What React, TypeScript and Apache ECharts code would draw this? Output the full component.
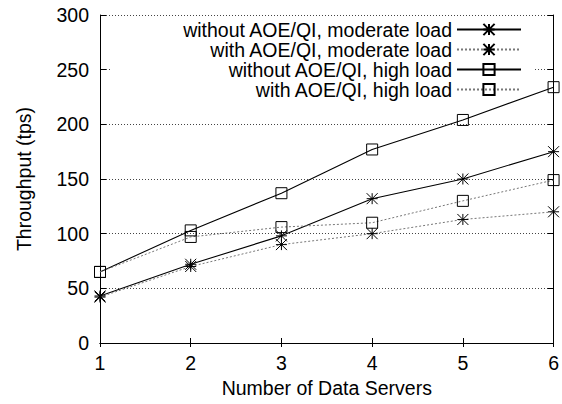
import React, { useEffect, useRef } from "react";
import * as echarts from "echarts";

const servers = [1, 2, 3, 4, 5, 6];
const withoutModerate = [43, 72, 98, 132, 150, 175];
const withModerate = [42, 70, 90, 100, 113, 120];
const withoutHigh = [65, 103, 137, 177, 204, 234];
const withHigh = [65, 97, 106, 110, 130, 149];
const seriesNames = [
  "without AOE/QI, moderate load",
  "with AOE/QI, moderate load",
  "without AOE/QI, high load",
  "with AOE/QI, high load",
];
const yTicks = [0, 50, 100, 150, 200, 250, 300];

const FONT = "'Liberation Sans', Arial, Helvetica, sans-serif";
const STAR = "path://M0,5L10,5M5,0L5,10M0,0L10,10M0,10L10,0";
const SQUARE = "path://M0,0L10,0L10,10L0,10Z";

export default function App() {
  const ref = useRef<HTMLDivElement>(null);
  useEffect(() => {
    if (!ref.current) return;
    const chart = echarts.init(ref.current, null, { renderer: "svg" });
    const values = [withoutModerate, withModerate, withoutHigh, withHigh];
    const symbols = [STAR, STAR, SQUARE, SQUARE];
    const dotted = [false, true, false, true];
    const series = values.map((arr, i) => ({
      type: "line",
      name: seriesNames[i],
      data: servers.map((x, j) => [x, arr[j]]),
      symbol: symbols[i],
      symbolSize: 11,
      symbolKeepAspect: true,
      showAllSymbol: true,
      xAxisIndex: 0,
      yAxisIndex: 0,
      itemStyle: { color: "rgba(0,0,0,0)", borderColor: "#000", borderWidth: 1 },
      lineStyle: dotted[i]
        ? { color: "#777", width: 1, type: [2, 2] }
        : { color: "#000", width: 1.1, type: "solid" },
      emphasis: { disabled: true },
      z: 3,
    }));
    const rows = [29, 49, 69, 89];
    const legends = seriesNames.map((n, i) => ({
      data: [n],
      right: i === 0 ? 29 : 40,
      top: i === 0 ? 19 : rows[i] - 9.5,
      orient: "vertical",
      align: "right",
      itemWidth: 64,
      itemHeight: 14,
      padding: i === 0 ? [0.5, 11, 60.5, 71] : 0,
      backgroundColor: i === 0 ? "#fff" : "transparent",
      selectedMode: false,
      textStyle: { fontFamily: FONT, fontSize: 19.5, lineHeight: 19, color: "#000" },
      z: i === 0 ? 2 : 5,
    }));
    const tickLabelStyle = { fontFamily: FONT, fontSize: 19.5, color: "#000" };
    chart.setOption({
      animation: false,
      backgroundColor: "#fff",
      grid: { left: 100, right: 8, top: 15, bottom: 61 },
      legend: legends,
      xAxis: [
        {
          type: "value",
          min: 1,
          max: 6,
          interval: 1,
          name: "Number of Data Servers",
          nameLocation: "middle",
          nameGap: 28,
          nameTextStyle: tickLabelStyle,
          axisLine: { show: true, lineStyle: { color: "#000", width: 1 } },
          axisTick: { show: true, inside: true, length: 5, lineStyle: { color: "#000" } },
          axisLabel: { ...tickLabelStyle, margin: 10 },
          splitLine: { show: false },
        },
        {
          type: "value",
          position: "top",
          min: 1,
          max: 6,
          interval: 1,
          axisLine: { show: true, lineStyle: { color: "#000", width: 1 } },
          axisTick: { show: true, inside: true, length: 4, lineStyle: { color: "#000" } },
          axisLabel: { show: false },
          splitLine: { show: false },
        },
      ],
      yAxis: [
        {
          type: "value",
          min: yTicks[0],
          max: yTicks[yTicks.length - 1],
          interval: 50,
          name: "Throughput (tps)",
          nameLocation: "middle",
          nameGap: 66,
          nameTextStyle: tickLabelStyle,
          axisLine: { show: true, lineStyle: { color: "#000", width: 1 } },
          axisTick: { show: true, inside: true, length: 6, lineStyle: { color: "#000" } },
          axisLabel: { ...tickLabelStyle, margin: 11 },
          splitLine: { show: true, lineStyle: { color: "#444", width: 1, type: [1, 2] } },
        },
        {
          type: "value",
          position: "right",
          min: yTicks[0],
          max: yTicks[yTicks.length - 1],
          interval: 50,
          axisLine: { show: true, lineStyle: { color: "#000", width: 1 } },
          axisTick: { show: true, inside: true, length: 6, lineStyle: { color: "#000" } },
          axisLabel: { show: false },
          splitLine: { show: false },
        },
      ],
      series,
    });
    return () => chart.dispose();
  }, []);
  return <div ref={ref} style={{ width: 562, height: 404, position: "absolute", left: 0, top: 0 }} />;
}
